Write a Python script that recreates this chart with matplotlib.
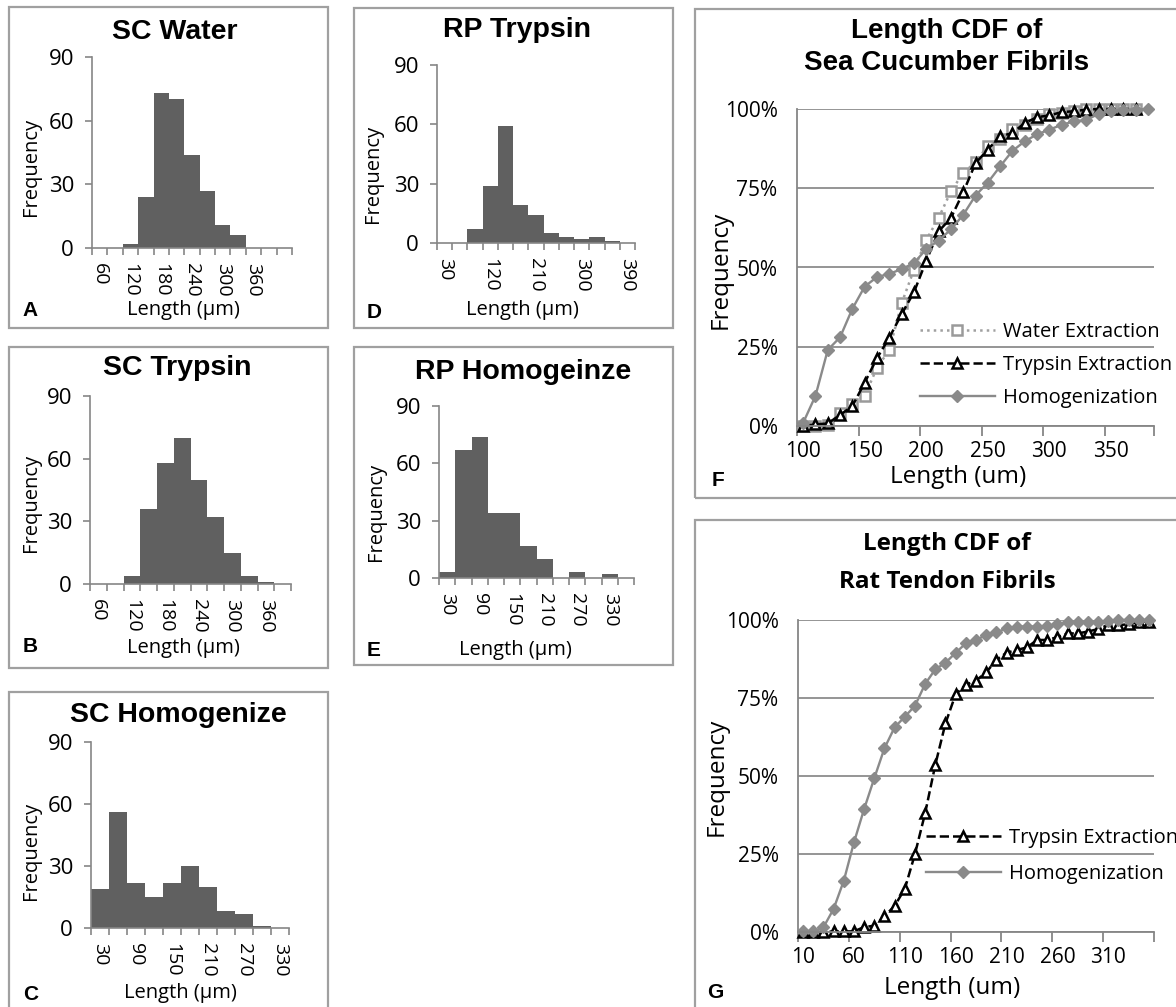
import numpy as np
import matplotlib
matplotlib.use("Agg")
import matplotlib.pyplot as plt
from matplotlib.patches import Rectangle

# -- histogram data (counts per length bin)
a_counts = [0, 0, 2, 24, 73, 70, 44, 27, 11, 6, 0, 0, 0]
a_labels = ['60', '', '120', '', '180', '', '240', '', '300', '', '360', '', '']
b_counts = [0, 0, 4, 36, 58, 70, 50, 32, 15, 4, 1, 0]
b_labels = ['60', '', '120', '', '180', '', '240', '', '300', '', '360', '']
c_counts = [19, 56, 22, 15, 22, 30, 20, 8, 7, 1, 0]
c_labels = ['30', '', '90', '', '150', '', '210', '', '270', '', '330']
d_counts = [0, 0, 7, 29, 59, 19, 14, 5, 3, 2, 3, 1, 0]
d_labels = ['30', '', '', '120', '', '', '210', '', '', '300', '', '', '390']
e_counts = [3, 67, 74, 34, 34, 17, 10, 0, 3, 0, 2, 0]
e_labels = ['30', '', '90', '', '150', '', '210', '', '270', '', '330', '']

# -- CDF data, sea cucumber (length categories 100..380 um)
f_len = list(range(100, 390, 10))
f_water = [0, 0, 0.3, 4, 7, 9.5, 18.4, 24, 38.7, 49.3, 58.7, 65.6, 74, 79.8, 83.2,
           88.4, 90.5, 93.7, 95, 97, 98.4, 98.7, 99.3, 100, 100, 100, 100, 100]
f_trypsin = [0, 0.5, 0.8, 3.5, 6.3, 13.7, 21.4, 27.9, 35.3, 42.2, 52.1, 61.4, 65.6,
             73.7, 82.9, 87.2, 91.4, 92.4, 95.6, 97.4, 98, 99, 99.3, 99.8, 100, 100,
             100, 100]
f_homog = [1, 9.5, 24, 28, 37, 44, 47, 48, 49.5, 51.4, 55.8, 58.5, 62, 66.6, 72.7,
           76.8, 81.9, 86.8, 89.8, 92, 93.5, 95, 96.1, 96.5, 98.5, 99.5, 99.8, 99.8,
           100]

# -- CDF data, rat tendon (length categories 10..350 um)
g_len = list(range(10, 360, 10))
g_trypsin = [0, 0, 0, 0.2, 0.2, 0.2, 1.6, 2, 5, 8.4, 13.8, 25, 38.1, 53.6, 66.9,
             76.2, 79.2, 80.6, 83.2, 87.2, 89.5, 90.4, 91.2, 93.6, 93.6, 94.5, 95.7,
             95.7, 96.3, 97.1, 98.4, 98.4, 98.6, 99.5, 99.5]
g_homog = [0.2, 0.2, 1.5, 7.4, 16.4, 28.7, 39.4, 49.3, 58.9, 65.6, 69, 72.5, 79.5,
           84.2, 86.3, 89.5, 92.5, 93.6, 95.2, 96, 97.3, 97.9, 97.9, 97.9, 98, 98.7,
           99.3, 99.3, 99.3, 99.5, 99.7, 100, 100, 100, 100]

W, H = 1176, 1007
fig = plt.figure(figsize=(W / 100, H / 100), dpi=100)

tickfont = 'Open Sans'
axgray = '#868686'
boxgray = '#a0a0a0'
barcol = '#606060'


def fx(x):
    return x / W


def fy(y):
    return 1 - y / H


def px_rect(l, t, r, b):
    return [l / W, 1 - b / H, (r - l) / W, (b - t) / H]


def box(l, t, r, b):
    fig.patches.append(Rectangle((fx(l), fy(b)), (r - l) / W, (b - t) / H, fill=False,
                                 edgecolor=boxgray, lw=1.6, transform=fig.transFigure))


def letter(x, y, s):
    fig.text(fx(x), fy(y), s, family='Liberation Sans', weight='bold', fontsize=15,
             ha='left', va='center')


def hist_panel(plot, counts, labels, title, title_xy, ylab_xy, xlab_xy):
    ax = fig.add_axes(px_rect(*plot))
    n = len(counts)
    ax.bar(np.arange(n), counts, width=1.0, color=barcol, linewidth=0)
    ax.set_xlim(-0.5, n - 0.5)
    ax.set_ylim(0, 90)
    ax.set_yticks([0, 30, 60, 90])
    ax.set_xticks(np.arange(n))
    ax.set_xticklabels(labels, rotation=270, family=tickfont, fontsize=14)
    ax.set_xticks(np.arange(n + 1) - 0.5, minor=True)
    ax.tick_params(axis='x', which='major', length=0, pad=11)
    ax.tick_params(axis='x', which='minor', length=5, color=axgray, width=1.2)
    ax.tick_params(axis='y', length=5, color=axgray, width=1.2, pad=8)
    for lab in ax.get_yticklabels():
        lab.set_family(tickfont)
        lab.set_fontsize(16)
    for s in ['top', 'right']:
        ax.spines[s].set_visible(False)
    for s in ['left', 'bottom']:
        ax.spines[s].set_color(axgray)
        ax.spines[s].set_linewidth(1.2)
    fig.text(fx(title_xy[0]), fy(title_xy[1]), title, family='Liberation Sans',
             weight='bold', fontsize=20.5, ha='center', va='center')
    fig.text(fx(ylab_xy[0]), fy(ylab_xy[1]), 'Frequency', family=tickfont, fontsize=14.5,
             rotation=90, ha='center', va='center')
    fig.text(fx(xlab_xy[0]), fy(xlab_xy[1]), 'Length (\u00b5m)', family=tickfont,
             fontsize=14.5, ha='center', va='center')
    return ax


# -- panel boxes
box(9, 7, 328, 328)
box(9, 347, 328, 668)
box(9, 692, 328, 1012)
box(354, 8, 673, 328)
box(354, 347, 673, 665)
box(695, 9, 1182, 498)
box(695, 520, 1182, 1012)

# -- histograms
hist_panel((92, 57, 292, 248), a_counts, a_labels, 'SC Water', (175, 32), (31, 167), (183, 310))
hist_panel((90, 396, 291, 584), b_counts, b_labels, 'SC Trypsin', (177, 368), (31, 503), (183, 648))
hist_panel((91, 742, 289, 928), c_counts, c_labels, 'SC Homogenize', (178, 715), (31, 851), (180, 993))
hist_panel((437, 65, 635, 243), d_counts, d_labels, 'RP Trypsin', (517, 30), (373, 174), (522, 310))
hist_panel((439, 406, 634, 578), e_counts, e_labels, 'RP Homogeinze', (523, 372), (376, 512), (515, 650))

letter(22, 310, 'A')
letter(23, 646, 'B')
letter(23, 995, 'C')
letter(367, 312, 'D')
letter(367, 650, 'E')
letter(712, 480, 'F')
letter(707, 993, 'G')


def cdf_axes(plot, cats):
    ax = fig.add_axes(px_rect(*plot))
    n = len(cats)
    ax.set_xlim(-0.5, n - 0.5)
    ax.set_ylim(0, 1)
    ax.set_yticks([0, 0.25, 0.5, 0.75, 1.0])
    ax.set_yticklabels(['0%', '25%', '50%', '75%', '100%'], family=tickfont, fontsize=15)
    ax.yaxis.grid(True, color='#8c8c8c', lw=1.3)
    ax.set_axisbelow(True)
    major = np.arange(0, n, 5)
    ax.set_xticks(major)
    ax.set_xticklabels([str(cats[i]) for i in major], family=tickfont, fontsize=15)
    minor = list(np.arange(0, n, 5) - 0.5) + [n - 0.5]
    ax.set_xticks(minor, minor=True)
    ax.tick_params(axis='x', which='major', length=0, pad=11)
    ax.tick_params(axis='x', which='minor', length=7, color=axgray, width=1.3)
    ax.tick_params(axis='y', length=0, pad=14)
    for s in ['top', 'right']:
        ax.spines[s].set_visible(False)
    for s in ['left', 'bottom']:
        ax.spines[s].set_color(axgray)
        ax.spines[s].set_linewidth(1.3)
    return ax


def two_line_title(x, y1, y2, l1, l2, family, size):
    fig.text(fx(x), fy(y1), l1, family=family, weight='bold', fontsize=size, ha='center', va='center')
    fig.text(fx(x), fy(y2), l2, family=family, weight='bold', fontsize=size, ha='center', va='center')


# -- panel F
ax = cdf_axes((797, 109, 1154, 426), f_len)
xf = np.arange(len(f_len))
ax.plot(xf[:len(f_water)], np.array(f_water) / 100, ls=':', color='#a0a0a0', lw=1.8,
        marker='s', ms=6.5, mfc='white', mec='#9a9a9a', mew=1.8, label='Water Extraction')
ax.plot(xf[:len(f_trypsin)], np.array(f_trypsin) / 100, ls='--', color='black', lw=1.8,
        marker='^', ms=7.5, mfc='white', mec='black', mew=1.8, label='Trypsin Extraction')
ax.plot(xf, np.array(f_homog) / 100, ls='-', color='#8a8a8a', lw=1.7,
        marker='D', ms=6.5, mfc='#8a8a8a', mec='#8a8a8a', label='Homogenization')
for ln in ax.lines:
    ln.set_clip_on(False)
ax.legend(loc='upper left', bbox_to_anchor=(fx(920), fy(322)), bbox_transform=fig.transFigure,
          frameon=False, prop={'family': tickfont, 'size': 14.5}, handlelength=3.7,
          handletextpad=0.4, labelspacing=0.65, borderpad=0, borderaxespad=0)
two_line_title(947, 31, 63, 'Length CDF of', 'Sea Cucumber Fibrils', 'Liberation Sans', 20)
fig.text(fx(721), fy(270), 'Frequency', family=tickfont, fontsize=17.5, rotation=90, ha='center', va='center')
fig.text(fx(958), fy(477), 'Length (um)', family=tickfont, fontsize=17.5, ha='center', va='center')

# -- panel G
ax = cdf_axes((798, 620, 1154, 932), g_len)
xg = np.arange(len(g_len))
ax.plot(xg, np.array(g_trypsin) / 100, ls='--', color='black', lw=1.8,
        marker='^', ms=7.5, mfc='white', mec='black', mew=1.8, label='Trypsin Extraction')
ax.plot(xg, np.array(g_homog) / 100, ls='-', color='#8a8a8a', lw=1.7,
        marker='D', ms=6.5, mfc='#8a8a8a', mec='#8a8a8a', label='Homogenization')
for ln in ax.lines:
    ln.set_clip_on(False)
ax.legend(loc='upper left', bbox_to_anchor=(fx(926), fy(828)), bbox_transform=fig.transFigure,
          frameon=False, prop={'family': tickfont, 'size': 14.5}, handlelength=3.7,
          handletextpad=0.4, labelspacing=0.8, borderpad=0, borderaxespad=0)
two_line_title(947, 544, 582, 'Length CDF of', 'Rat Tendon Fibrils', 'Open Sans', 17.5)
fig.text(fx(717), fy(777), 'Frequency', family=tickfont, fontsize=17.5, rotation=90, ha='center', va='center')
fig.text(fx(952), fy(988), 'Length (um)', family=tickfont, fontsize=17.5, ha='center', va='center')

fig.savefig('out.png', dpi=100)
